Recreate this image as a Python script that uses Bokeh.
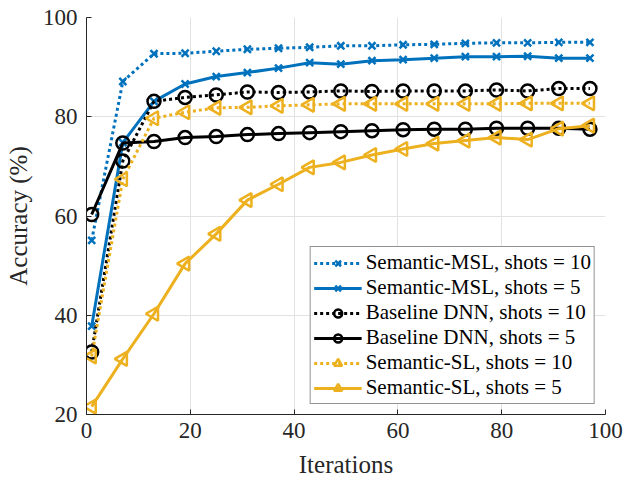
import math
from bokeh.plotting import figure
from bokeh.models import Range1d, FixedTicker, Legend, LegendItem
from bokeh.embed import file_html
from bokeh.resources import INLINE

iterations = [1, 7, 13, 19, 25, 31, 37, 43, 49, 55, 61, 67, 73, 79, 85, 91, 97]
msl_10 = [55.1, 87.1, 92.7, 92.8, 93.2, 93.6, 93.8, 94.0, 94.3, 94.3, 94.5, 94.6, 94.8, 94.9, 94.9, 95.0, 95.0]
msl_5 = [37.8, 74.8, 83.1, 86.6, 88.1, 88.9, 89.8, 90.9, 90.6, 91.3, 91.5, 91.8, 92.1, 92.1, 92.2, 91.8, 91.8]
dnn_10 = [32.6, 71.1, 83.1, 83.9, 84.4, 85.0, 84.9, 85.0, 85.2, 85.1, 85.2, 85.2, 85.2, 85.4, 85.2, 85.7, 85.7]
dnn_5 = [60.3, 74.7, 75.0, 75.8, 76.0, 76.4, 76.6, 76.8, 77.0, 77.2, 77.4, 77.5, 77.5, 77.7, 77.7, 77.7, 77.5]
sl_10 = [31.7, 67.4, 79.7, 80.9, 81.8, 81.9, 82.2, 82.4, 82.6, 82.6, 82.6, 82.6, 82.6, 82.6, 82.7, 82.7, 82.7]
sl_5 = [21.6, 31.2, 40.3, 50.4, 56.4, 63.2, 66.4, 69.8, 70.8, 72.3, 73.5, 74.6, 75.2, 75.8, 75.4, 77.6, 78.2]

labels = ["Semantic-MSL, shots = 10", "Semantic-MSL, shots = 5",
          "Baseline DNN, shots = 10", "Baseline DNN, shots = 5",
          "Semantic-SL, shots = 10", "Semantic-SL, shots = 5"]
x_ticks = [0, 20, 40, 60, 80, 100]
y_ticks = [20, 40, 60, 80, 100]

BLUE = "#0072BD"
BLACK = "#000000"
YELLOW = "#EDB120"
AX = "#262626"
FONT = "Liberation Serif"

p = figure(output_backend="svg", toolbar_location=None,
           frame_width=519, frame_height=397,
           min_border_left=86, min_border_right=24, min_border_top=17, min_border_bottom=60,
           x_range=Range1d(0, 100), y_range=Range1d(20, 100),
           background_fill_color="white", border_fill_color="white")
p.outline_line_color = None

for ax, ticks in ((p.xaxis[0], x_ticks), (p.yaxis[0], y_ticks)):
    ax.ticker = FixedTicker(ticks=ticks)
    ax.major_tick_in = 5
    ax.major_tick_out = 0
    ax.minor_tick_line_color = None
    ax.axis_line_color = AX
    ax.major_tick_line_color = AX
    ax.major_label_text_font = FONT
    ax.major_label_text_font_size = "23px"
    ax.major_label_text_color = AX
    ax.axis_label_text_font = FONT
    ax.axis_label_text_font_size = "25px"
    ax.axis_label_text_font_style = "normal"
    ax.axis_label_text_color = AX

p.xaxis.axis_label = "Iterations"
p.yaxis.axis_label = "Accuracy (%)"
p.xaxis.major_label_standoff = 8
p.yaxis.major_label_standoff = 9
p.xaxis.axis_label_standoff = 10
p.yaxis.axis_label_standoff = 8

p.xgrid.ticker = FixedTicker(ticks=x_ticks)
p.ygrid.ticker = FixedTicker(ticks=y_ticks)
p.grid.grid_line_color = "#e2e2e2"
p.grid.grid_line_width = 1

series = [
    (msl_10, BLUE, "3 3", "x", 10, 0.0),
    (msl_5, BLUE, "solid", "x", 10, 0.0),
    (dnn_10, BLACK, "3 3", "circle", 13, 0.0),
    (dnn_5, BLACK, "solid", "circle", 13, 0.0),
    (sl_10, YELLOW, "3 3", "triangle", 14, 90.0),
    (sl_5, YELLOW, "solid", "triangle", 14, 90.0),
]

items = []
for (vals, color, dash, marker, size, ang), lab in zip(series, labels):
    r1 = p.line(iterations, vals, line_color=color, line_width=3, line_dash=dash)
    r2 = p.scatter(iterations, vals, marker=marker, size=size, angle=ang, angle_units="deg",
                   line_color=color, line_width=2.5, fill_alpha=0.0)
    items.append(LegendItem(label=lab, renderers=[r1, r2]))

legend = Legend(items=items, location="bottom_right", margin=10,
                label_text_font=FONT, label_text_font_size="21px",
                label_text_color="black",
                glyph_width=48, glyph_height=20, label_height=20,
                label_standoff=4, spacing=0, padding=3,
                border_line_color=AX, border_line_width=1,
                background_fill_color="white", background_fill_alpha=1.0)
p.add_layout(legend, "center")

open("out.html", "w").write(file_html(p, INLINE))
